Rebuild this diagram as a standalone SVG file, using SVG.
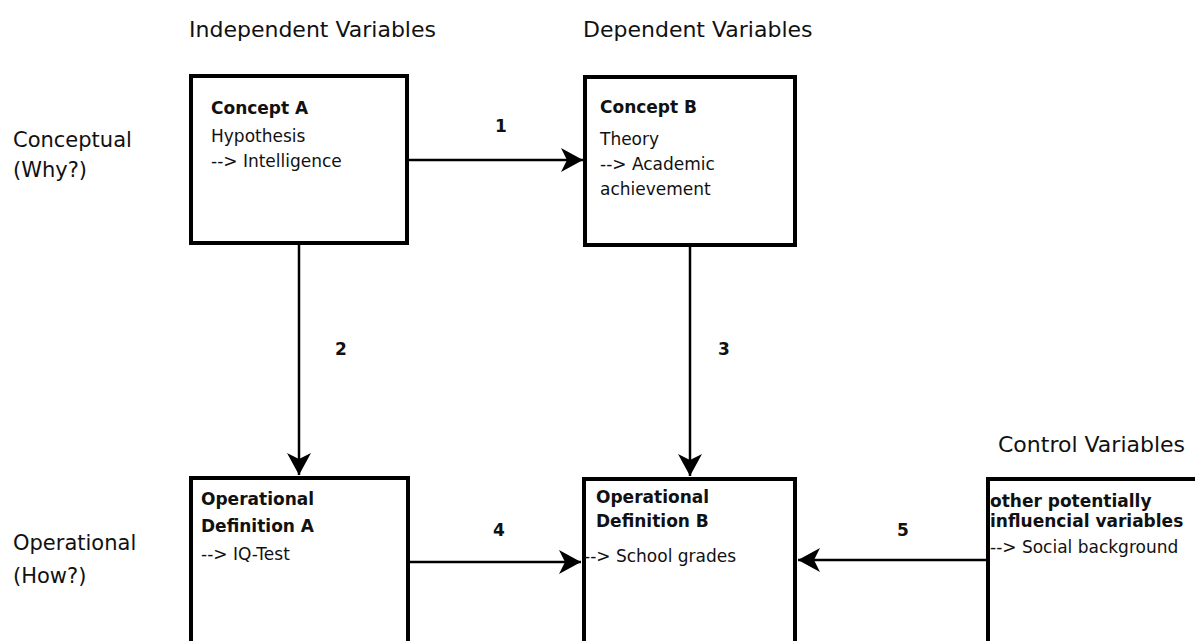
<svg xmlns="http://www.w3.org/2000/svg" width="1195" height="641" viewBox="0 0 1195 641">
  <style>
    .box { fill: #ffffff; stroke: #000000; stroke-width: 4; }
    .edge { fill: none; stroke: #000000; stroke-width: 2.5; }
    .hdr { font-family: "DejaVu Sans", Verdana, sans-serif; font-size: 22px; fill: #111111; }
    .side { font-family: "DejaVu Sans", Verdana, sans-serif; font-size: 21px; fill: #111111; }
    .t { font-family: "DejaVu Sans", Verdana, sans-serif; font-size: 17px; fill: #111111; }
    .b { font-family: "DejaVu Sans", Verdana, sans-serif; font-size: 17px; font-weight: bold; fill: #111111; }
  </style>
  <defs>
    <marker id="arrow" viewBox="-24 -13 26 26" refX="0" refY="0" markerWidth="26" markerHeight="26" markerUnits="userSpaceOnUse" orient="auto">
      <path d="M0,0 L-22,-12 L-16,0 L-22,12 Z" fill="#000000"/>
    </marker>
  </defs>

  <rect width="1195" height="641" fill="#ffffff"/>

  <!-- column and row headings -->
  <g id="headings">
    <text class="hdr" x="189" y="37">Independent Variables</text>
    <text class="hdr" x="583" y="37">Dependent Variables</text>
    <text class="hdr" x="998" y="452">Control Variables</text>
    <text class="side" x="13" y="147">Conceptual</text>
    <text class="side" x="13" y="177">(Why?)</text>
    <text class="side" x="13" y="550">Operational</text>
    <text class="side" x="13" y="583">(How?)</text>
  </g>

  <!-- connectors with their numbers -->
  <g id="connectors">
    <line class="edge" x1="409" y1="160" x2="583" y2="160" marker-end="url(#arrow)"/>
    <line class="edge" x1="299" y1="245" x2="299" y2="475" marker-end="url(#arrow)"/>
    <line class="edge" x1="690" y1="247" x2="690" y2="476" marker-end="url(#arrow)"/>
    <line class="edge" x1="410" y1="562" x2="581" y2="562" marker-end="url(#arrow)"/>
    <line class="edge" x1="986" y1="560" x2="798" y2="560" marker-end="url(#arrow)"/>
    <text class="b" x="495" y="132">1</text>
    <text class="b" x="335" y="355">2</text>
    <text class="b" x="718" y="355">3</text>
    <text class="b" x="493" y="536">4</text>
    <text class="b" x="897" y="536">5</text>
  </g>

  <g id="concept-a">
    <rect class="box" x="191" y="76" width="216" height="167"/>
    <text class="b" x="211" y="114">Concept A</text>
    <text class="t" x="211" y="142">Hypothesis</text>
    <text class="t" x="211" y="167">--&gt; Intelligence</text>
  </g>

  <g id="concept-b">
    <rect class="box" x="585" y="77" width="210" height="168"/>
    <text class="b" x="600" y="113">Concept B</text>
    <text class="t" x="600" y="145">Theory</text>
    <text class="t" x="600" y="170">--&gt; Academic</text>
    <text class="t" x="600" y="195">achievement</text>
  </g>

  <g id="operational-a">
    <rect class="box" x="191" y="478" width="217" height="200"/>
    <text class="b" x="201" y="505">Operational</text>
    <text class="b" x="201" y="532">Definition A</text>
    <text class="t" x="201" y="560">--&gt; IQ-Test</text>
  </g>

  <g id="operational-b">
    <rect class="box" x="584" y="479" width="211" height="200"/>
    <text class="b" x="596" y="503">Operational</text>
    <text class="b" x="596" y="527">Definition B</text>
    <text class="t" x="584" y="562">--&gt; School grades</text>
  </g>

  <g id="control">
    <rect class="box" x="988" y="479" width="260" height="200"/>
    <text class="b" x="990" y="507">other potentially</text>
    <text class="b" x="990" y="527">influencial variables</text>
    <text class="t" x="990" y="553">--&gt; Social background</text>
  </g>
</svg>
